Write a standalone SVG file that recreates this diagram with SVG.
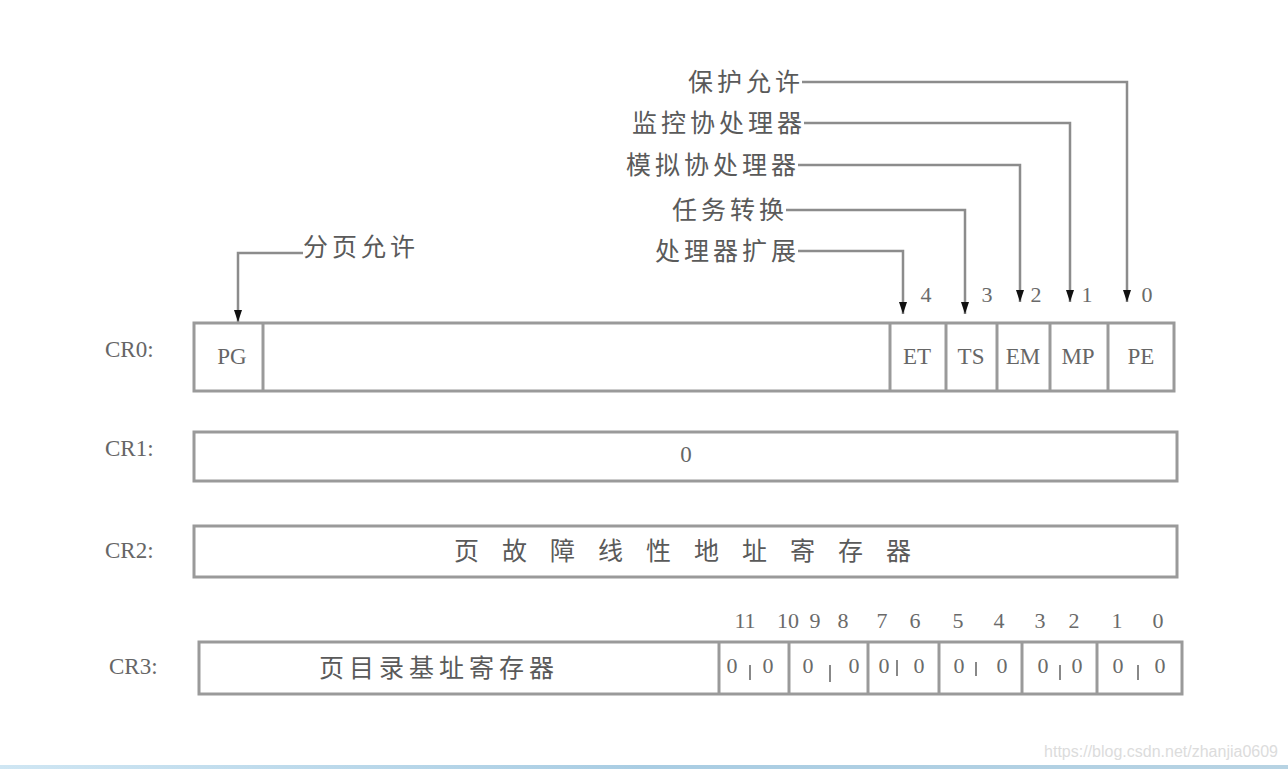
<svg xmlns="http://www.w3.org/2000/svg" width="1288" height="769" viewBox="0 0 1288 769">
<defs>
<style>
.box{fill:#fff;stroke:#9a9a9a;stroke-width:3}
.div{stroke:#9a9a9a;stroke-width:3}
.ln{fill:none;stroke:#8c8c8c;stroke-width:2.5}
.cn{font-family:"Noto Sans CJK SC",sans-serif;font-size:25px;fill:#5a5a5a;letter-spacing:4px}
.sf{font-family:"Liberation Serif",serif;font-size:23px;fill:#666}
.num{font-family:"Liberation Serif",serif;font-size:22px;fill:#6a6a6a;text-anchor:middle}
.mid{text-anchor:middle}
.end{text-anchor:end}
</style>
<marker id="ah" viewBox="0 0 12 8" refX="12" refY="4" markerWidth="12" markerHeight="8" markerUnits="userSpaceOnUse" orient="auto">
<path d="M0,0 L12,4 L0,8 Z" fill="#111"/>
</marker>
<linearGradient id="bl" x1="0" x2="1" y1="0" y2="0">
<stop offset="0" stop-color="#cfe6f3"/>
<stop offset="0.5" stop-color="#a9cde3"/>
<stop offset="1" stop-color="#b7d3e3"/>
</linearGradient>
</defs>
<rect width="1288" height="769" fill="#fff"/>

<g id="connectors">
<path class="ln" d="M802,82 H1127 V302" marker-end="url(#ah)"/>
<path class="ln" d="M804,123 H1070 V302" marker-end="url(#ah)"/>
<path class="ln" d="M798,165 H1020 V302" marker-end="url(#ah)"/>
<path class="ln" d="M786,210 H965 V314" marker-end="url(#ah)"/>
<path class="ln" d="M798,251 H903 V314" marker-end="url(#ah)"/>
<path class="ln" d="M303,253 H238 V322" marker-end="url(#ah)"/>
</g>

<g id="labels-top">
<text class="cn end" x="804" y="91">保护允许</text>
<text class="cn end" x="806" y="132">监控协处理器</text>
<text class="cn end" x="800" y="174">模拟协处理器</text>
<text class="cn end" x="788" y="219">任务转换</text>
<text class="cn end" x="800" y="260">处理器扩展</text>
<text class="cn" x="303" y="256">分页允许</text>
<text class="num" x="926" y="302">4</text>
<text class="num" x="987" y="302">3</text>
<text class="num" x="1036" y="302">2</text>
<text class="num" x="1087" y="302">1</text>
<text class="num" x="1147" y="302">0</text>
</g>

<g id="cr0">
<text class="sf" x="105" y="357">CR0:</text>
<rect class="box" x="194" y="323" width="980" height="68"/>
<line class="div" x1="263" y1="323" x2="263" y2="391"/>
<line class="div" x1="890" y1="323" x2="890" y2="391"/>
<line class="div" x1="946" y1="323" x2="946" y2="391"/>
<line class="div" x1="997" y1="323" x2="997" y2="391"/>
<line class="div" x1="1050" y1="323" x2="1050" y2="391"/>
<line class="div" x1="1108" y1="323" x2="1108" y2="391"/>
<text class="sf mid" x="232" y="364">PG</text>
<text class="sf mid" x="917" y="364">ET</text>
<text class="sf mid" x="971" y="364">TS</text>
<text class="sf mid" x="1023" y="364">EM</text>
<text class="sf mid" x="1078" y="364">MP</text>
<text class="sf mid" x="1141" y="364">PE</text>
</g>

<g id="cr1">
<text class="sf" x="105" y="456">CR1:</text>
<rect class="box" x="194" y="432" width="983" height="49"/>
<text class="sf mid" x="686" y="462">0</text>
</g>

<g id="cr2">
<text class="sf" x="105" y="558">CR2:</text>
<rect class="box" x="194" y="526" width="983" height="51"/>
<text class="cn mid" x="694" y="560" style="letter-spacing:23px">页故障线性地址寄存器</text>
</g>

<g id="cr3">
<text class="sf" x="109" y="674">CR3:</text>
<rect class="box" x="199" y="642" width="983" height="52"/>
<line class="div" x1="719" y1="642" x2="719" y2="694"/>
<line class="div" x1="789" y1="642" x2="789" y2="694"/>
<line class="div" x1="868" y1="642" x2="868" y2="694"/>
<line class="div" x1="939" y1="642" x2="939" y2="694"/>
<line class="div" x1="1022" y1="642" x2="1022" y2="694"/>
<line class="div" x1="1097" y1="642" x2="1097" y2="694"/>
<text class="cn mid" x="439" y="677" style="letter-spacing:5px">页目录基址寄存器</text>
<g class="num">
<text x="745" y="628">11</text><text x="788" y="628">10</text><text x="815" y="628">9</text><text x="843" y="628">8</text>
<text x="882" y="628">7</text><text x="915" y="628">6</text><text x="958" y="628">5</text><text x="999" y="628">4</text>
<text x="1040" y="628">3</text><text x="1074" y="628">2</text><text x="1117" y="628">1</text><text x="1158" y="628">0</text>
<text x="732" y="673">0</text><text x="768" y="673">0</text>
<text x="808" y="673">0</text><text x="854" y="673">0</text>
<text x="884" y="673">0</text><text x="919" y="673">0</text>
<text x="959" y="673">0</text><text x="1002" y="673">0</text>
<text x="1043" y="673">0</text><text x="1077" y="673">0</text>
<text x="1118" y="673">0</text><text x="1160" y="673">0</text>
</g>
<g stroke="#888" stroke-width="2">
<line x1="750" y1="665" x2="750" y2="680"/>
<line x1="830" y1="665" x2="830" y2="682"/>
<line x1="897" y1="660" x2="897" y2="676"/>
<line x1="976" y1="662" x2="976" y2="676"/>
<line x1="1060" y1="665" x2="1060" y2="680"/>
<line x1="1138" y1="665" x2="1138" y2="680"/>
</g>
</g>

<text x="1278" y="757" text-anchor="end" font-family="Liberation Sans,sans-serif" font-size="16" fill="#dcdcdc">https://blog.csdn.net/zhanjia0609</text>
<rect x="0" y="765" width="1288" height="4" fill="url(#bl)"/>
</svg>
